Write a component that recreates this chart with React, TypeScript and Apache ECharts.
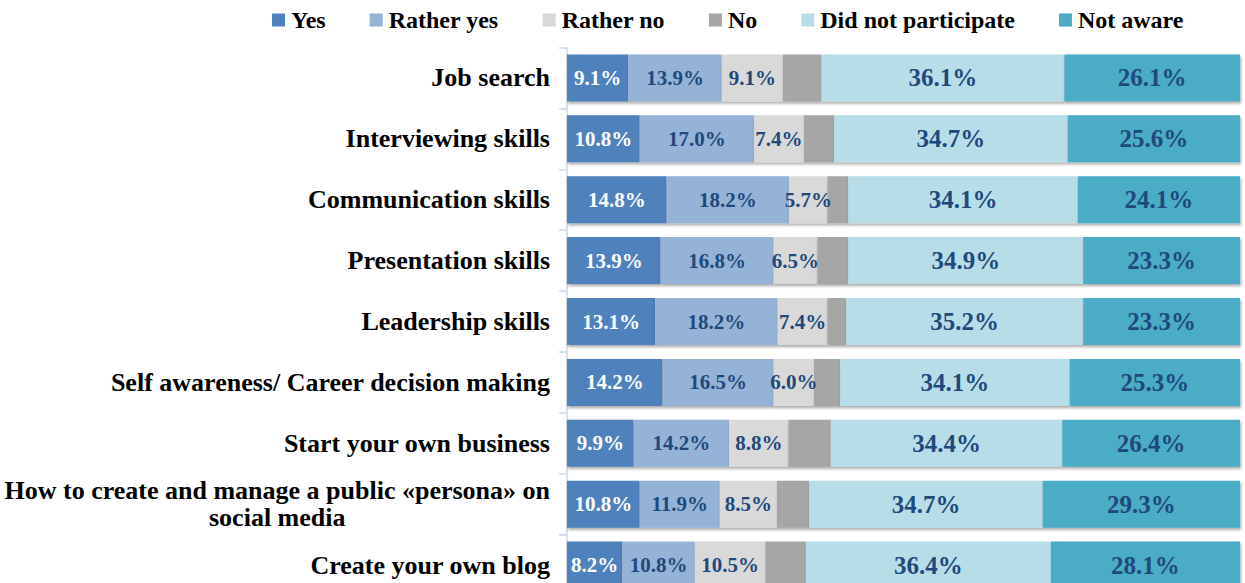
import React, { useEffect, useRef } from "react";
import * as echarts from "echarts";

const categories = [
  "Job search",
  "Interviewing skills",
  "Communication skills",
  "Presentation skills",
  "Leadership skills",
  "Self awareness/ Career decision making",
  "Start your own business",
  "How to create and manage a public «persona» on social media",
  "Create your own blog",
];

const seriesNames = ["Yes", "Rather yes", "Rather no", "No", "Did not participate", "Not aware"];

const yesValues = [9.1, 10.8, 14.8, 13.9, 13.1, 14.2, 9.9, 10.8, 8.2];
const ratherYesValues = [13.9, 17.0, 18.2, 16.8, 18.2, 16.5, 14.2, 11.9, 10.8];
const ratherNoValues = [9.1, 7.4, 5.7, 6.5, 7.4, 6.0, 8.8, 8.5, 10.5];
const noValues = [5.7, 4.5, 3.1, 4.6, 2.8, 3.9, 6.3, 4.8, 6.0];
const didNotParticipateValues = [36.1, 34.7, 34.1, 34.9, 35.2, 34.1, 34.4, 34.7, 36.4];
const notAwareValues = [26.1, 25.6, 24.1, 23.3, 23.3, 25.3, 26.4, 29.3, 28.1];

const allValues = [
  yesValues,
  ratherYesValues,
  ratherNoValues,
  noValues,
  didNotParticipateValues,
  notAwareValues,
];

const colors = ["#4F81BD", "#95B3D7", "#D9D9D9", "#A6A6A6", "#B7DEE8", "#4BACC6"];
const labelColors = ["#FFFFFF", "#1F497D", "#1F497D", "#1F497D", "#1F497D", "#1F497D"];
const labelSizes = [21, 21, 21, 0, 25, 25];

const FONT = "'Liberation Serif', 'Times New Roman', serif";

export default function App() {
  const ref = useRef<HTMLDivElement>(null);

  useEffect(() => {
    if (!ref.current) return;
    const chart = echarts.init(ref.current, null, { renderer: "svg" });

    const series = seriesNames.map((name, i) => ({
      name,
      type: "bar",
      stack: "total",
      barWidth: 47,
      data: allValues[i],
      itemStyle: {
        color: colors[i],
        shadowColor: "rgba(0,0,0,0.35)",
        shadowBlur: 3,
        shadowOffsetX: 1,
        shadowOffsetY: 2,
      },
      label: {
        show: i !== 3,
        position: "inside",
        formatter: (p: any) => Number(p.value).toFixed(1) + "%",
        color: labelColors[i],
        fontFamily: FONT,
        fontWeight: "bold",
        fontSize: labelSizes[i] || 21,
        textBorderWidth: 0,
      },
      emphasis: { disabled: true },
    }));

    chart.setOption({
      animation: false,
      backgroundColor: "#FFFFFF",
      legend: {
        data: seriesNames,
        left: 272,
        top: 8,
        padding: 0,
        itemWidth: 13,
        itemHeight: 13,
        itemGap: 44,
        icon: "rect",
        textStyle: {
          fontFamily: FONT,
          fontWeight: "bold",
          fontSize: 24,
          color: "#000000",
          padding: [0, 0, 0, 1],
        },
      },
      grid: {
        left: 567,
        right: 5,
        top: 47.5,
        height: 548,
        containLabel: false,
      },
      xAxis: {
        type: "value",
        min: 0,
        max: 100,
        show: false,
      },
      yAxis: {
        type: "category",
        data: categories,
        inverse: true,
        axisLine: { show: true, lineStyle: { color: "#C6D9F1", width: 1.5 } },
        axisTick: { show: true, length: 8, lineStyle: { color: "#C6D9F1", width: 1.5 } },
        axisLabel: {
          margin: 17,
          color: "#000000",
          fontFamily: FONT,
          fontWeight: "bold",
          fontSize: 26,
          formatter: (v: string) => {
            if (v.indexOf("«persona»") >= 0) {
              const idx = v.indexOf(" on ") + 3;
              return "{c|" + v.slice(0, idx) + "}\n{c|" + v.slice(idx + 1) + "}";
            }
            return v;
          },
          rich: {
            c: {
              align: "center",
              fontFamily: FONT,
              fontWeight: "bold",
              fontSize: 26,
              lineHeight: 27,
              color: "#000000",
            },
          },
        },
      },
      series,
    });

    return () => chart.dispose();
  }, []);

  return (
    <div
      style={{
        position: "absolute",
        left: 0,
        top: 0,
        width: 1245,
        height: 583,
        overflow: "hidden",
        background: "#FFFFFF",
      }}
    >
      <div ref={ref} style={{ width: 1245, height: 620 }} />
    </div>
  );
}
